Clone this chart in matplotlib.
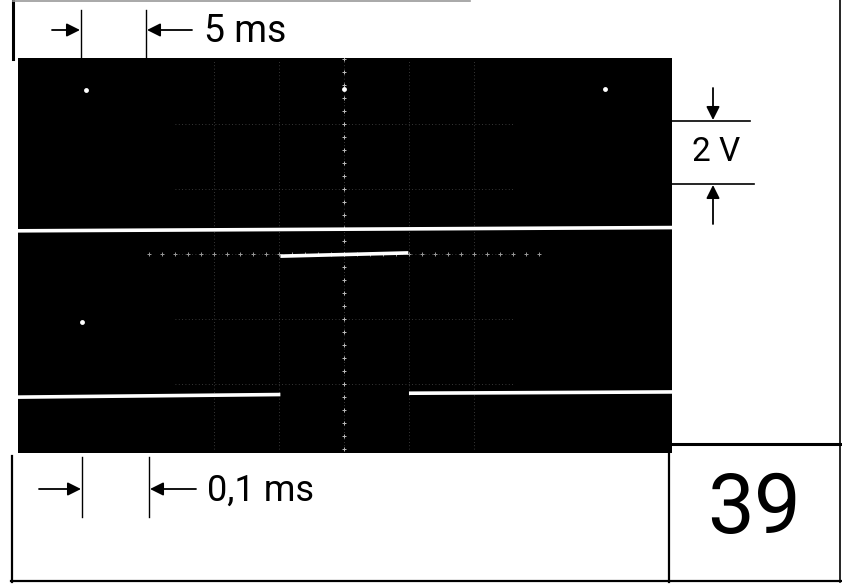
import matplotlib
matplotlib.use("Agg")
import matplotlib.pyplot as plt
import numpy as np

plt.rcParams['font.family'] = ['Roboto', 'DejaVu Sans']

# --- scope traces, in screen divisions (x: time div, y: 2 V/div) ---
upper_x = [-5.02, 5.05]
upper_y = [0.36, 0.41]

lower_base1_x = [-5.02, -0.98]
lower_base1_y = [-2.20, -2.16]
lower_pulse_x = [-0.98, 0.99]
lower_pulse_y = [-0.03, 0.02]
lower_base2_x = [1.00, 5.05]
lower_base2_y = [-2.14, -2.12]

# stray bright spots on the screen
spot_x = [-3.98, 4.02, -4.03, 0.0]
spot_y = [2.52, 2.55, -1.05, 2.55]

# labels
time_top = "5 ms"
time_bottom = "0,1 ms"
volt_label = "2 V"
fig_number = "39"

W, H = 842, 585
fig = plt.figure(figsize=(W / 100, H / 100), dpi=100)
fig.patch.set_facecolor("white")

# overlay in pixel coordinates for the frame and scale marks
ov = fig.add_axes([0, 0, 1, 1])
ov.set_xlim(0, W)
ov.set_ylim(H, 0)
ov.axis("off")

# scope screen
left, right, top, bottom = 18, 672, 58, 453
sc = fig.add_axes([left / W, 1 - bottom / H, (right - left) / W, (bottom - top) / H])
sc.set_facecolor("black")
sc.set_xlim(-5.02, 5.05)
sc.set_ylim(-3.06, 3.02)
sc.set_xticks([])
sc.set_yticks([])
for s in sc.spines.values():
    s.set_visible(False)

# faint graticule
for gx in [-2, -1, 0, 1, 2]:
    sc.plot([gx, gx], [-3.0, 3.0], color="#7a7a7a", lw=0.6, ls=(0, (1, 3)), alpha=0.6)
for gy in [-2, -1, 0, 1, 2]:
    sc.plot([-2.6, 2.6], [gy, gy], color="#7a7a7a", lw=0.6, ls=(0, (1, 3)), alpha=0.6)
ticks = np.arange(-3.0, 3.01, 0.2)
sc.plot(np.zeros_like(ticks), ticks, "+", color="#bbbbbb", ms=3, mew=0.7)
sc.plot(ticks, np.zeros_like(ticks), "+", color="#999999", ms=3, mew=0.7)

# traces
sc.plot(upper_x, upper_y, color="white", lw=2.6, solid_capstyle="butt")
sc.plot(lower_base1_x, lower_base1_y, color="white", lw=2.6, solid_capstyle="butt")
sc.plot(lower_pulse_x, lower_pulse_y, color="white", lw=2.6, solid_capstyle="butt")
sc.plot(lower_base2_x, lower_base2_y, color="white", lw=2.6, solid_capstyle="butt")
sc.plot(spot_x, spot_y, "o", color="white", ms=3.5, mec="none")

# frame
k = "black"
ov.plot([13, 13], [0, 59], color=k, lw=2.2)
ov.plot([12, 12], [456, 582], color=k, lw=1.6)
ov.plot([11, 842], [581, 581], color=k, lw=1.6)
ov.plot([840, 840], [0, 582], color=k, lw=1.2)
ov.plot([13, 470], [0.8, 0.8], color="#9a9a9a", lw=1.2)
ov.plot([672, 842], [444, 444], color=k, lw=2.2)
ov.plot([669, 669], [452, 582], color=k, lw=1.6)

arrow = dict(arrowstyle="-|>", color=k, lw=1.3, mutation_scale=20, shrinkA=0, shrinkB=0)

# top time scale
ov.plot([81, 81], [10, 58], color=k, lw=1.0)
ov.plot([146, 146], [10, 58], color=k, lw=1.0)
ov.annotate("", xy=(80, 30), xytext=(52, 30), arrowprops=arrow)
ov.annotate("", xy=(147, 30), xytext=(192, 30), arrowprops=arrow)
ov.text(204, 32, time_top, fontsize=27, ha="left", va="center", color=k)

# bottom time scale
ov.plot([82, 82], [457, 517], color=k, lw=1.0)
ov.plot([149, 149], [457, 517], color=k, lw=1.0)
ov.annotate("", xy=(81, 489), xytext=(39, 489), arrowprops=arrow)
ov.annotate("", xy=(150, 489), xytext=(196, 489), arrowprops=arrow)
ov.text(207, 491, time_bottom, fontsize=26, ha="left", va="center", color=k)

# voltage scale
ov.plot([671, 750], [121, 121], color=k, lw=1.2)
ov.plot([672, 754], [184, 184], color=k, lw=1.2)
ov.annotate("", xy=(713, 120), xytext=(713, 88), arrowprops=arrow)
ov.annotate("", xy=(713, 185), xytext=(713, 224), arrowprops=arrow)
ov.text(716, 152, volt_label, fontsize=24, ha="center", va="center", color=k)

# figure number
ov.text(754, 510, fig_number, fontsize=60, ha="center", va="center", color=k)

fig.savefig("out.png", dpi=100, facecolor="white")
